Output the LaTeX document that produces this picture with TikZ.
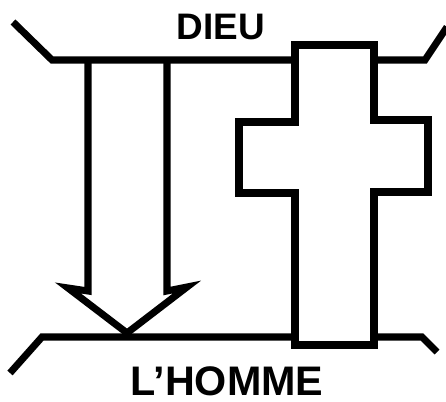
\documentclass[tikz,border=0pt]{standalone}
\usepackage{fontspec}
\setmainfont{Liberation Sans}

\begin{document}
\begin{tikzpicture}[x=0.02cm,y=-0.02cm,line width=4pt]
    \useasboundingbox (0,0) rectangle (446,402);

    % Labels
    \node[font=\bfseries\fontsize{21}{21}\selectfont,anchor=base,inner sep=0pt] (dieu) at (221,40) {DIEU};
    \node[font=\bfseries\fontsize{23.5}{24}\selectfont,anchor=base,inner sep=0pt] (homme) at (227,395) {L’HOMME};

    % Upper line (God)
    \draw (13,22) -- (52,60) -- (295,60);
    \draw (374,60) -- (425,60) -- (447,27);

    % Lower line (man)
    \draw (10,373) -- (42,337) -- (295,337);
    \draw (374,337) -- (422,337) -- (437,352);

    % Downward arrow
    \draw (88,60) -- (88,291) -- (68,288) -- (127,333) -- (187,287) -- (167,291) -- (167,60);

    % Cross
    \draw (295,45) -- (374,45) -- (374,120) -- (428,120) -- (428,192) -- (374,192)
        -- (374,345) -- (295,345) -- (295,193) -- (239,193) -- (239,122) -- (295,122) -- cycle;
\end{tikzpicture}
\end{document}
